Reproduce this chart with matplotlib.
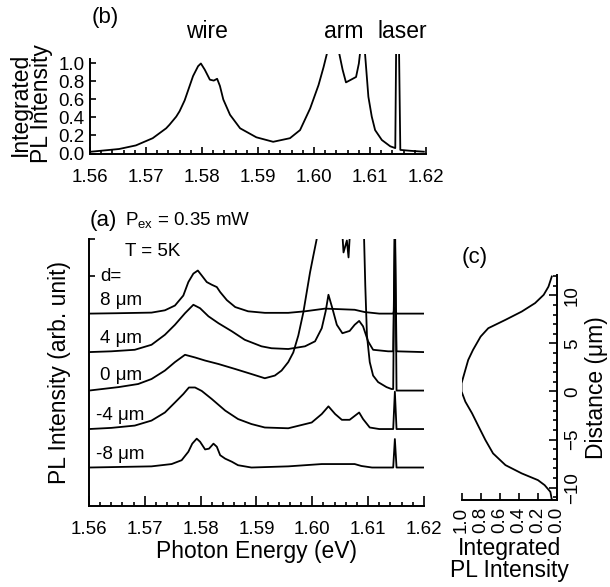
import numpy as np
import matplotlib
matplotlib.use("Agg")
import matplotlib.pyplot as plt
from matplotlib.ticker import MultipleLocator, FixedLocator

plt.rcParams['font.family'] = ['Liberation Sans', 'DejaVu Sans']
plt.rcParams['mathtext.fontset'] = 'custom'
plt.rcParams['mathtext.rm'] = 'Liberation Sans'
plt.rcParams['mathtext.it'] = 'Liberation Sans:italic'

# ---------------------------------------------------------------
# data
# ---------------------------------------------------------------
# (b) integrated PL spectrum
e_int = [1.5602, 1.5652, 1.5682, 1.5712, 1.5736, 1.5742, 1.5754, 1.5760, 1.5769,
         1.5784, 1.5793, 1.5798, 1.5805, 1.5814, 1.5821, 1.5827, 1.5832, 1.5838,
         1.5850, 1.5868, 1.5897, 1.5927, 1.5957, 1.5975, 1.5993, 1.6008, 1.6017,
         1.6023, 1.6030, 1.6040, 1.6045, 1.6051, 1.6057, 1.6075, 1.6080, 1.6082,
         1.6088, 1.6091, 1.6097, 1.6103, 1.6109, 1.6121, 1.6136, 1.6145, 1.6147,
         1.6151, 1.6154, 1.6172, 1.6196]
i_int = [0.02, 0.05, 0.09, 0.17, 0.28, 0.32, 0.41, 0.47, 0.59,
         0.86, 0.97, 1.0, 0.93, 0.82, 0.81, 0.83, 0.75, 0.60,
         0.43, 0.28, 0.18, 0.13, 0.17, 0.26, 0.50, 0.76, 0.96,
         1.11, 1.5, 1.5, 1.11, 0.93, 0.79, 0.85, 1.0, 1.11,
         1.5, 1.11, 0.63, 0.41, 0.26, 0.15, 0.08, 0.06, 1.5,
         1.5, 0.04, 0.03, 0.02]

# (a) PL spectra at different positions d (offset traces)
d_labels = ['8 μm', '4 μm', '0 μm', '-4 μm', '-8 μm']
offsets = [5, 4, 3, 2, 1]

e_p8 = [1.5600, 1.5650, 1.5712, 1.5736, 1.5754, 1.5769, 1.5778, 1.5787, 1.5795,
        1.5802, 1.5811, 1.5820, 1.5829, 1.5835, 1.5847, 1.5862, 1.5885, 1.5915,
        1.5957, 1.5987, 1.6023, 1.6076, 1.6094, 1.6120, 1.6145, 1.6148, 1.6151,
        1.6200]
i_p8 = [0.0, 0.01, 0.026, 0.086, 0.21, 0.47, 0.82, 1.04, 1.12,
        0.99, 0.82, 0.75, 0.69, 0.56, 0.35, 0.17, 0.06, 0.02,
        0.02, 0.06, 0.13, 0.10, 0.04, 0.0, 0.0, 0.15, 0.0,
        0.0]

e_p4 = [1.5600, 1.5640, 1.5682, 1.5712, 1.5736, 1.5754, 1.5772, 1.5787, 1.5799,
        1.5814, 1.5832, 1.5856, 1.5879, 1.5909, 1.5927, 1.5957, 1.5987, 1.6005,
        1.6017, 1.6024, 1.6029, 1.6036, 1.6044, 1.6054, 1.6067, 1.6076, 1.6084,
        1.6091, 1.6100, 1.6109, 1.6136, 1.6145, 1.6148, 1.6151, 1.6200]
i_p4 = [0.0, 0.02, 0.06, 0.19, 0.45, 0.71, 1.01, 1.23, 1.14,
        0.93, 0.75, 0.54, 0.32, 0.15, 0.10, 0.08, 0.15, 0.28,
        0.62, 1.06, 1.49, 1.14, 0.71, 0.49, 0.55, 0.71, 0.81,
        0.67, 0.28, 0.06, 0.02, 0.02, 3.2, 0.02, 0.0]

e_0 = [1.5600, 1.5653, 1.5688, 1.5712, 1.5736, 1.5754, 1.5772, 1.5790, 1.5808,
       1.5832, 1.5862, 1.5891, 1.5915, 1.5933, 1.5945, 1.5957, 1.5966, 1.5975,
       1.5984, 1.5990, 1.5996, 1.6002, 1.6008, 1.6030, 1.6050, 1.6056, 1.6062,
       1.6065, 1.6071, 1.6091, 1.6095, 1.6098, 1.6103, 1.6109, 1.6118, 1.6133,
       1.6142, 1.6145, 1.6148, 1.6151, 1.6200]
i_0 = [0.0, 0.09, 0.17, 0.30, 0.52, 0.74, 0.93, 0.86, 0.78,
       0.69, 0.56, 0.43, 0.32, 0.39, 0.52, 0.74, 0.99, 1.43,
       2.03, 2.55, 3.07, 3.51, 3.94, 5.0, 5.0, 3.59, 3.90,
       3.46, 5.0, 5.0, 2.73, 1.43, 0.74, 0.39, 0.22, 0.09,
       0.04, 0.04, 5.0, 0.0, 0.0]

e_m4 = [1.5600, 1.5640, 1.5682, 1.5712, 1.5736, 1.5754, 1.5769, 1.5779, 1.5790,
        1.5802, 1.5820, 1.5844, 1.5867, 1.5891, 1.5915, 1.5957, 1.5999, 1.6017,
        1.6029, 1.6041, 1.6053, 1.6067, 1.6084, 1.6091, 1.6103, 1.6120, 1.6145,
        1.6148, 1.6151, 1.6200]
i_m4 = [0.0, 0.03, 0.09, 0.22, 0.43, 0.69, 0.91, 1.08, 1.08,
        0.99, 0.78, 0.48, 0.26, 0.13, 0.04, 0.02, 0.17, 0.39,
        0.59, 0.39, 0.24, 0.24, 0.43, 0.26, 0.04, 0.0, 0.0,
        0.97, 0.0, 0.0]

e_m8 = [1.5600, 1.5712, 1.5748, 1.5766, 1.5778, 1.5785, 1.5793, 1.5799, 1.5808,
        1.5815, 1.5823, 1.5829, 1.5835, 1.5844, 1.5856, 1.5867, 1.5891, 1.5957,
        1.6017, 1.6076, 1.6088, 1.6107, 1.6145, 1.6148, 1.6151, 1.6200]
i_m8 = [0.0, 0.03, 0.09, 0.19, 0.41, 0.62, 0.75, 0.67, 0.47,
        0.49, 0.62, 0.54, 0.32, 0.23, 0.15, 0.06, 0.0, 0.03,
        0.09, 0.09, 0.04, 0.0, 0.0, 0.74, 0.0, 0.0]

spectra_e = [e_p8, e_p4, e_0, e_m4, e_m8]
spectra_i = [i_p8, i_p4, i_0, i_m4, i_m8]

# (c) integrated PL intensity vs distance
dist = [11.96, 10.9, 10.05, 9.19, 8.31, 7.45, 6.58, 5.71, 4.32, 3.28, 2.24,
        0.85, 0.0, -1.06, -2.27, -3.67, -5.05, -6.44, -7.66, -8.52, -9.22,
        -9.74, -10.44, -11.5]
i_dist = [0.055, 0.09, 0.14, 0.23, 0.37, 0.54, 0.72, 0.80, 0.88, 0.93, 0.96,
          1.0, 1.0, 0.96, 0.89, 0.82, 0.75, 0.67, 0.54, 0.37, 0.20,
          0.13, 0.07, 0.05]

# ---------------------------------------------------------------
fig = plt.figure(figsize=(6.10, 5.87), dpi=100)
lw = 1.3
fs_tick = 13.5
fs_lab = 16.5

# (b) ----------------------------------------------------------
axb = fig.add_axes([0.1475, 0.7385, 0.551, 0.1687])
axb.plot(e_int, i_int, color='black', lw=lw)
axb.set_xlim(1.56, 1.62)
axb.set_ylim(0, 1.1)
for s in ['top', 'right']:
    axb.spines[s].set_visible(False)
axb.spines['left'].set_bounds(0, 1.05)
axb.xaxis.set_major_locator(MultipleLocator(0.01))
axb.xaxis.set_minor_locator(MultipleLocator(0.002))
axb.yaxis.set_major_locator(MultipleLocator(0.2))
axb.xaxis.set_major_formatter(plt.FormatStrFormatter('%.2f'))
axb.yaxis.set_major_formatter(plt.FormatStrFormatter('%.1f'))
axb.tick_params(which='both', direction='in', labelsize=fs_tick, width=1.2)
axb.tick_params(axis='x', which='major', length=5, pad=11)
axb.tick_params(axis='x', which='minor', length=3)
axb.tick_params(axis='y', which='major', length=4, pad=4)
axb.set_ylabel('Integrated\nPL Intensity', fontsize=fs_lab, linespacing=0.9, labelpad=4)
axb.text(1.5603, 1.51, '(b)', fontsize=16, va='center', ha='left', clip_on=False)
axb.text(1.5808, 1.36, 'wire', fontsize=fs_lab, va='center', ha='center')
axb.text(1.6053, 1.36, 'arm', fontsize=fs_lab, va='center', ha='center')
axb.text(1.6157, 1.36, 'laser', fontsize=fs_lab, va='center', ha='center')
for sp in axb.spines.values():
    sp.set_linewidth(1.4)

# (a) ----------------------------------------------------------
axa = fig.add_axes([0.1459, 0.138, 0.549, 0.4549])
for es, ys, off in zip(spectra_e, spectra_i, offsets):
    axa.plot(es, np.array(ys) + off, color='black', lw=lw)
axa.set_xlim(1.56, 1.62)
axa.set_ylim(0, 6.94)
for s in ['top', 'right']:
    axa.spines[s].set_visible(False)
axa.xaxis.set_major_locator(MultipleLocator(0.01))
axa.xaxis.set_minor_locator(MultipleLocator(0.002))
axa.xaxis.set_major_formatter(plt.FormatStrFormatter('%.2f'))
axa.yaxis.set_major_locator(FixedLocator([5.97, 6.94]))
axa.tick_params(which='both', direction='in', labelsize=fs_tick, width=1.2)
axa.tick_params(axis='x', which='major', length=7, pad=10.5)
axa.tick_params(axis='x', which='minor', length=3)
axa.tick_params(axis='y', length=4, labelleft=False)
axa.set_xlabel('Photon Energy (eV)', fontsize=fs_lab, labelpad=1.5)
axa.set_ylabel('PL Intensity (arb. unit)', fontsize=fs_lab, labelpad=13)
axa.text(1.5602, 7.43, '(a)', fontsize=16, va='center', ha='left', clip_on=False)
axa.text(1.5664, 7.43, r'P$_\mathrm{ex}$ = 0.35 mW', fontsize=fs_tick,
         va='center', ha='left', clip_on=False)
axa.text(1.5664, 6.62, 'T = 5K', fontsize=fs_tick, va='center', ha='left')
axa.text(1.5620, 5.97, 'd=', fontsize=fs_tick, va='center', ha='left')
label_y = [5.35, 4.36, 3.40, 2.36, 1.35]
for lab, yy in zip(d_labels, label_y):
    x0 = 1.5613 if lab.startswith('-') else 1.5620
    axa.text(x0, yy, lab, fontsize=fs_tick, va='center', ha='left')
for sp in axa.spines.values():
    sp.set_linewidth(1.4)

# (c) ----------------------------------------------------------
axc = fig.add_axes([0.7566, 0.148, 0.1566, 0.3833])
axc.plot(i_dist, dist, color='black', lw=lw)
axc.set_xlim(1.0, 0.0)
axc.set_ylim(-11.3, 12.1)
for s in ['top', 'left']:
    axc.spines[s].set_visible(False)
axc.yaxis.tick_right()
axc.yaxis.set_label_position('right')
axc.xaxis.set_major_locator(FixedLocator([1.0, 0.8, 0.6, 0.4, 0.2, 0.0]))
axc.xaxis.set_major_formatter(plt.FormatStrFormatter('%.1f'))
axc.yaxis.set_major_locator(MultipleLocator(5))
axc.yaxis.set_minor_locator(MultipleLocator(1))
axc.tick_params(which='both', direction='in', labelsize=fs_tick, width=1.2)
axc.tick_params(axis='x', length=5, pad=5, labelrotation=90)
axc.tick_params(axis='y', which='major', length=6, pad=5, labelrotation=90)
axc.tick_params(axis='y', which='minor', length=3)
for t in axc.get_yticklabels():
    t.set_va('center')
axc.set_xlabel('Integrated\nPL Intensity', fontsize=fs_lab, linespacing=0.9, labelpad=3)
axc.set_ylabel('Distance (μm)', fontsize=fs_lab, labelpad=3)
axc.text(0.0, 1.08, '(c)', transform=axc.transAxes, fontsize=16,
         va='center', ha='left')
for sp in axc.spines.values():
    sp.set_linewidth(1.4)

fig.savefig('out.png', dpi=100)
